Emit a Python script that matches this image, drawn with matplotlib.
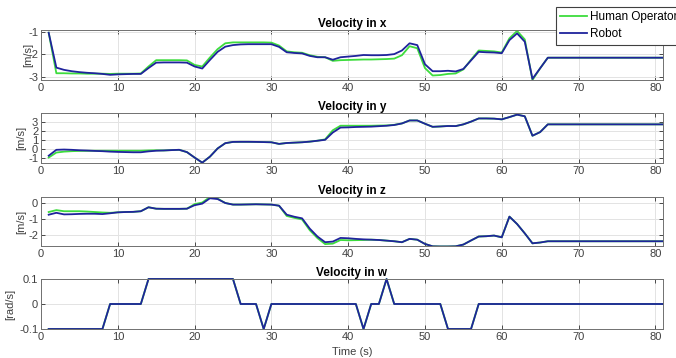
import matplotlib
matplotlib.use("Agg")
import matplotlib.pyplot as plt
import numpy as np

plt.rcParams['font.family'] = ['Liberation Sans', 'DejaVu Sans']

t = list(range(1, 82))

robot_x = [-1.05, -2.60, -2.70, -2.76, -2.80, -2.83, -2.85, -2.88, -2.92, -2.90,
           -2.89, -2.88, -2.88, -2.62, -2.38, -2.37, -2.37, -2.37, -2.38, -2.55,
           -2.64, -2.26, -1.90, -1.67, -1.60, -1.57, -1.56, -1.56, -1.56, -1.56,
           -1.68, -1.92, -1.95, -1.97, -2.08, -2.14, -2.14, -2.25, -2.14, -2.11,
           -2.08, -2.04, -2.05, -2.05, -2.04, -2.00, -1.84, -1.52, -1.60, -2.45,
           -2.76, -2.76, -2.74, -2.77, -2.66, -2.28, -1.90, -1.92, -1.93, -1.96,
           -1.38, -1.08, -1.45, -3.10, -2.63, -2.16, -2.16, -2.16, -2.16, -2.16,
           -2.16, -2.16, -2.16, -2.16, -2.16, -2.16, -2.16, -2.16, -2.16, -2.16,
           -2.16]
human_x = [-1.05, -2.85, -2.85, -2.86, -2.86, -2.87, -2.87, -2.87, -2.88, -2.87,
           -2.87, -2.87, -2.86, -2.55, -2.27, -2.27, -2.27, -2.27, -2.28, -2.48,
           -2.55, -2.15, -1.78, -1.52, -1.48, -1.48, -1.48, -1.48, -1.48, -1.49,
           -1.62, -1.88, -1.92, -1.94, -2.05, -2.12, -2.14, -2.30, -2.27, -2.26,
           -2.25, -2.24, -2.24, -2.23, -2.22, -2.20, -2.05, -1.65, -1.74, -2.62,
           -2.95, -2.93, -2.88, -2.86, -2.68, -2.25, -1.84, -1.86, -1.88, -1.93,
           -1.30, -0.97, -1.35, -3.15, -2.63, -2.16, -2.16, -2.16, -2.16, -2.16,
           -2.16, -2.16, -2.16, -2.16, -2.16, -2.16, -2.16, -2.16, -2.16, -2.16,
           -2.16]

robot_y = [-0.70, -0.05, -0.02, -0.05, -0.10, -0.13, -0.17, -0.20, -0.25, -0.28,
           -0.30, -0.32, -0.32, -0.22, -0.15, -0.12, -0.08, -0.05, -0.30, -0.90,
           -1.46, -0.80, 0.10, 0.68, 0.82, 0.83, 0.83, 0.82, 0.80, 0.78,
           0.60, 0.70, 0.74, 0.78, 0.85, 0.95, 1.05, 1.85, 2.40, 2.42,
           2.46, 2.48, 2.50, 2.55, 2.60, 2.68, 2.85, 3.18, 3.18, 2.82,
           2.48, 2.52, 2.57, 2.56, 2.75, 3.05, 3.40, 3.40, 3.38, 3.30,
           3.55, 3.82, 3.64, 1.50, 1.90, 2.75, 2.75, 2.75, 2.75, 2.75,
           2.75, 2.75, 2.75, 2.75, 2.75, 2.75, 2.75, 2.75, 2.75, 2.75,
           2.75]
human_y = [-0.90, -0.35, -0.25, -0.20, -0.17, -0.16, -0.15, -0.15, -0.15, -0.15,
           -0.15, -0.15, -0.15, -0.12, -0.10, -0.12, -0.08, -0.05, -0.30, -0.90,
           -1.46, -0.80, 0.10, 0.68, 0.82, 0.83, 0.83, 0.82, 0.80, 0.78,
           0.60, 0.70, 0.74, 0.78, 0.85, 0.95, 1.10, 2.10, 2.60, 2.60,
           2.60, 2.60, 2.60, 2.62, 2.63, 2.70, 2.85, 3.18, 3.18, 2.82,
           2.48, 2.52, 2.57, 2.56, 2.75, 3.05, 3.40, 3.40, 3.38, 3.30,
           3.55, 3.82, 3.64, 1.50, 1.90, 2.75, 2.75, 2.75, 2.75, 2.75,
           2.75, 2.75, 2.75, 2.75, 2.75, 2.75, 2.75, 2.75, 2.75, 2.75,
           2.75]

robot_z = [-0.72, -0.60, -0.70, -0.69, -0.67, -0.66, -0.66, -0.68, -0.63, -0.57,
           -0.55, -0.54, -0.50, -0.25, -0.34, -0.35, -0.35, -0.35, -0.34, -0.12,
           -0.02, 0.32, 0.27, 0.02, -0.08, -0.08, -0.07, -0.06, -0.07, -0.08,
           -0.15, -0.72, -0.85, -0.95, -1.60, -2.10, -2.46, -2.42, -2.19, -2.21,
           -2.25, -2.28, -2.30, -2.32, -2.36, -2.40, -2.46, -2.25, -2.30, -2.57,
           -2.72, -2.73, -2.73, -2.72, -2.61, -2.35, -2.10, -2.08, -2.04, -2.15,
           -0.84, -1.31, -1.90, -2.53, -2.48, -2.40, -2.40, -2.40, -2.40, -2.40,
           -2.40, -2.40, -2.40, -2.40, -2.40, -2.40, -2.40, -2.40, -2.40, -2.40,
           -2.40]
human_z = [-0.55, -0.43, -0.50, -0.50, -0.50, -0.52, -0.55, -0.58, -0.60, -0.57,
           -0.55, -0.54, -0.50, -0.25, -0.34, -0.35, -0.35, -0.35, -0.34, -0.05,
           0.05, 0.40, 0.30, 0.02, -0.08, -0.08, -0.07, -0.06, -0.07, -0.08,
           -0.15, -0.80, -0.92, -1.02, -1.70, -2.20, -2.58, -2.55, -2.32, -2.34,
           -2.33, -2.32, -2.30, -2.32, -2.36, -2.40, -2.46, -2.25, -2.30, -2.57,
           -2.72, -2.73, -2.73, -2.72, -2.61, -2.35, -2.10, -2.08, -2.04, -2.15,
           -0.84, -1.31, -1.90, -2.53, -2.48, -2.40, -2.40, -2.40, -2.40, -2.40,
           -2.40, -2.40, -2.40, -2.40, -2.40, -2.40, -2.40, -2.40, -2.40, -2.40,
           -2.40]

robot_w = [-0.1, -0.1, -0.1, -0.1, -0.1, -0.1, -0.1, -0.1, 0.0, 0.0,
           0.0, 0.0, 0.0, 0.1, 0.1, 0.1, 0.1, 0.1, 0.1, 0.1,
           0.1, 0.1, 0.1, 0.1, 0.1, 0.0, 0.0, 0.0, -0.1, 0.0,
           0.0, 0.0, 0.0, 0.0, 0.0, 0.0, 0.0, 0.0, 0.0, 0.0,
           0.0, -0.1, 0.0, 0.0, 0.1, 0.0, 0.0, 0.0, 0.0, 0.0,
           0.0, 0.0, -0.1, -0.1, -0.1, -0.1, 0.0, 0.0, 0.0, 0.0,
           0.0, 0.0, 0.0, 0.0, 0.0, 0.0, 0.0, 0.0, 0.0, 0.0,
           0.0, 0.0, 0.0, 0.0, 0.0, 0.0, 0.0, 0.0, 0.0, 0.0,
           0.0]
human_w = list(robot_w)

titles = ["Velocity in x", "Velocity in y", "Velocity in z", "Velocity in w"]
ylabels = ["[m/s]", "[m/s]", "[m/s]", "[rad/s]"]
yticks = [[-3, -2, -1], [-1, 0, 1, 2, 3], [-2, -1, 0], [-0.1, 0, 0.1]]
yticklabels = [["-3", "-2", "-1"], ["-1", "0", "1", "2", "3"], ["-2", "-1", "0"], ["-0.1", "0", "0.1"]]
ylims = [(-3.15, -0.93), (-1.5, 4.0), (-2.7, 0.4), (-0.1, 0.1)]
xticks = [0, 10, 20, 30, 40, 50, 60, 70, 80]
legend_labels = ["Human Operator", "Robot"]

W, H = 676, 358
fig = plt.figure(figsize=(W / 100, H / 100), dpi=100)

boxes = [(41, 30, 80), (41, 113, 163), (41, 197, 246), (41, 279, 329)]
label_x = [-0.013, -0.024, -0.024, -0.042]
human_series = [human_x, human_y, human_z, human_w]
robot_series = [robot_x, robot_y, robot_z, robot_w]

green = '#3ddc3d'
blue = '#1f239c'
tickcol = '#404040'

for i in range(4):
    left, top, bot = boxes[i]
    ax = fig.add_axes([left / W, 1 - bot / H, 622 / W, (bot - top) / H])
    clip = (i != 3)
    lh, = ax.plot(t, human_series[i], color=green, lw=1.3, clip_on=clip)
    lr, = ax.plot(t, robot_series[i], color=blue, lw=1.3, clip_on=clip)
    ax.set_xlim(0, 81)
    ax.set_ylim(*ylims[i])
    ax.set_xticks(xticks)
    ax.set_yticks(yticks[i])
    ax.set_yticklabels(yticklabels[i])
    ax.grid(True, color='#e3e3e3', lw=0.7)
    ax.set_axisbelow(True)
    ax.tick_params(direction='in', length=3, width=0.6, colors='#303030',
                   labelcolor=tickcol, labelsize=8, top=True, right=True, pad=2)
    for sp in ax.spines.values():
        sp.set_color('#707070')
        sp.set_linewidth(0.7)
    ax.set_title(titles[i], fontsize=8.5, fontweight='bold', pad=2)
    ax.set_ylabel(ylabels[i], fontsize=8, color=tickcol)
    ax.yaxis.set_label_coords(label_x[i], 0.5)
    if i == 0:
        handles = [lh, lr]
    if i == 3:
        ax.set_xlabel("Time (s)", fontsize=8, color=tickcol, labelpad=4)

leg = fig.legend(handles, legend_labels, loc='upper left',
                 bbox_to_anchor=(556 / W, 1 - 7 / H), fontsize=8.5,
                 handlelength=2.3, handletextpad=0.2, borderpad=0.35,
                 labelspacing=0.45, fancybox=False, framealpha=1,
                 edgecolor='#404040', borderaxespad=0)
leg.get_frame().set_linewidth(0.8)

fig.savefig("out.png", dpi=100)
